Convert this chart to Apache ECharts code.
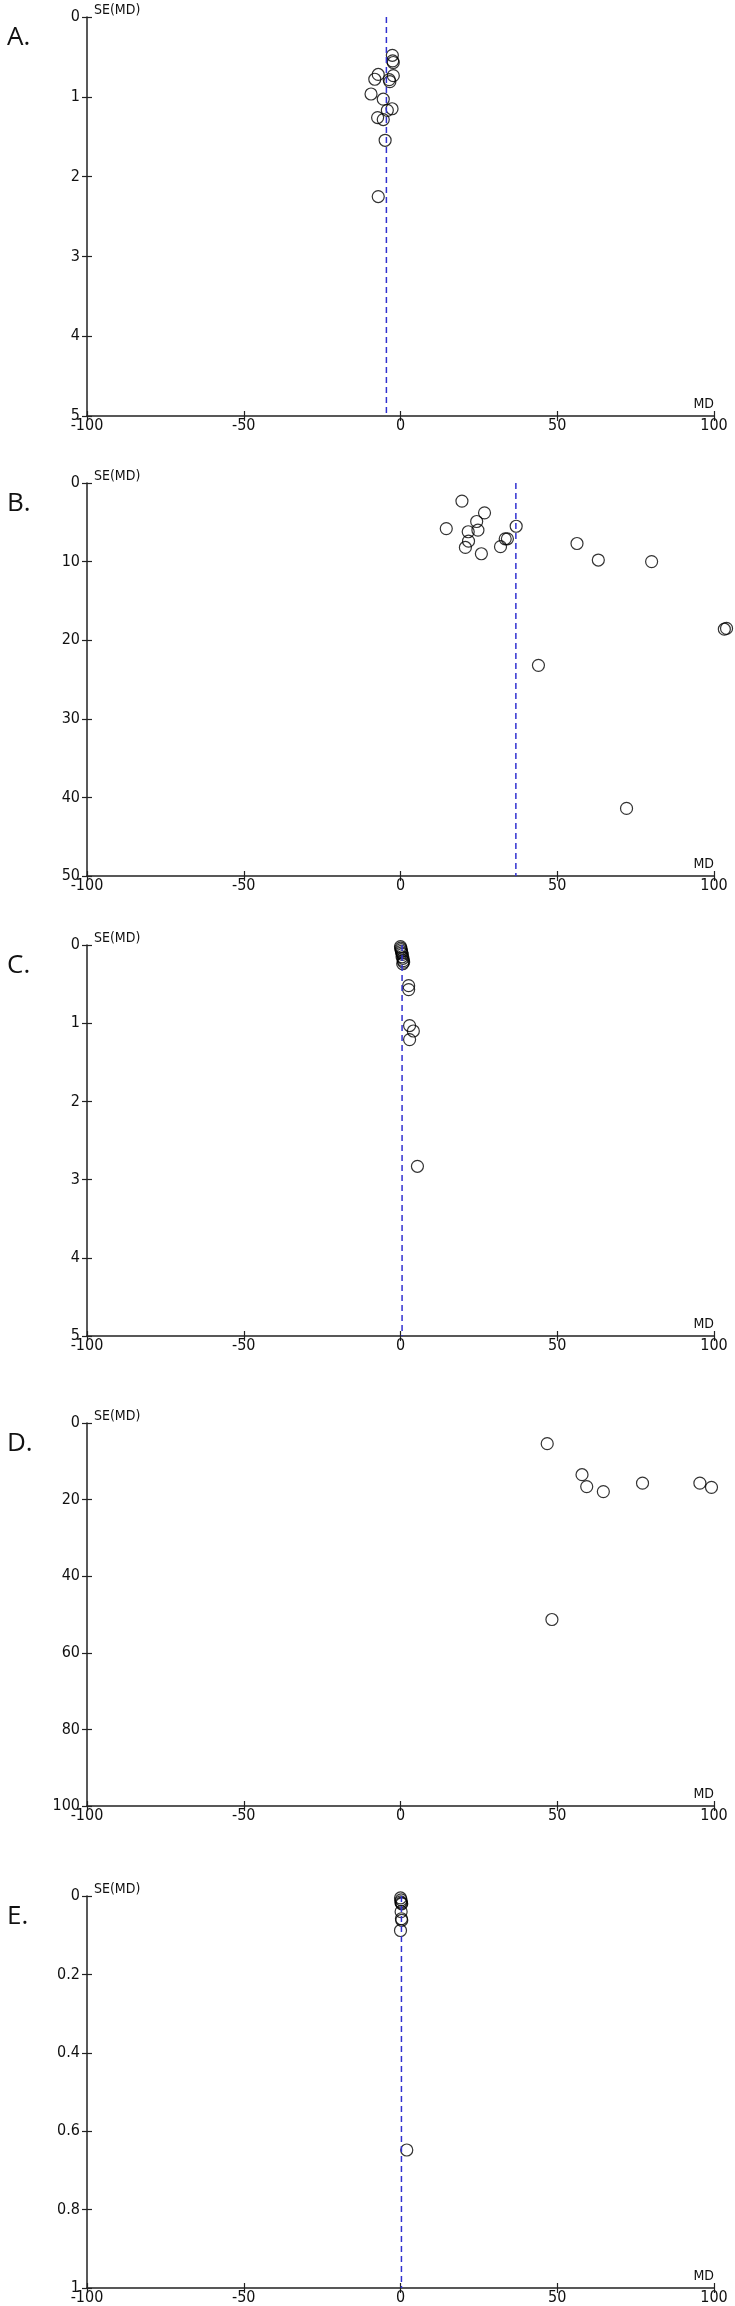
<!DOCTYPE html>
<html>
<head>
<meta charset="utf-8">
<script src="https://cdn.jsdelivr.net/npm/echarts@6/dist/echarts.min.js"></script>
<style>
html,body{margin:0;padding:0;background:#fff;}
#chart{width:735px;height:2306px;}
</style>
</head>
<body>
<div id="chart"></div>
<script>
// ---------- data ----------
const panelLabels = ['A.', 'B.', 'C.', 'D.', 'E.'];
const xName = 'MD';
const yName = 'SE(MD)';
const xMin = -100, xMax = 100, xInterval = 50;
const seMax = [5, 50, 5, 100, 1];
const seInterval = [1, 10, 1, 20, 0.2];
const pooled = [-4.5, 36.8, 0.5, null, 0.3];

// [MD, SE(MD)]
const studiesA = [
  [-2.6, 0.48], [-2.5, 0.55], [-2.3, 0.57], [-7.1, 0.72], [-8.2, 0.78],
  [-2.3, 0.735], [-3.6, 0.785], [-3.4, 0.81], [-9.4, 0.965], [-5.5, 1.03],
  [-2.7, 1.15], [-4.2, 1.17], [-7.3, 1.26], [-5.5, 1.285], [-4.9, 1.545],
  [-7.1, 2.25]
];
const studiesB = [
  [19.6, 2.3], [26.8, 3.8], [14.6, 5.8], [24.3, 4.9], [21.6, 6.2],
  [24.7, 6.0], [36.9, 5.5], [21.7, 7.4], [33.4, 7.1], [34.1, 7.1],
  [20.7, 8.2], [31.9, 8.1], [25.8, 9.0], [56.3, 7.7], [63.1, 9.8],
  [80.1, 10.0], [103.3, 18.6], [104.0, 18.5], [44.0, 23.2], [72.1, 41.4]
];
const studiesC = [
  [0.0, 0.02], [0.1, 0.04], [0.2, 0.06], [0.3, 0.08], [0.4, 0.10],
  [0.6, 0.12], [0.5, 0.15], [0.8, 0.17], [0.9, 0.20], [1.0, 0.22],
  [0.7, 0.24], [2.6, 0.52], [2.6, 0.57], [2.9, 1.03], [4.1, 1.10],
  [2.9, 1.21], [5.4, 2.83]
];
const studiesD = [
  [46.8, 5.4], [57.9, 13.5], [59.4, 16.6], [64.7, 17.9], [77.2, 15.7],
  [95.5, 15.7], [99.2, 16.8], [48.3, 51.3]
];
const studiesE = [
  [0.0, 0.005], [0.2, 0.01], [0.1, 0.015], [0.4, 0.02], [0.3, 0.018],
  [0.2, 0.04], [0.3, 0.058], [0.4, 0.062], [0.0, 0.088], [2.0, 0.648]
];
const studies = [studiesA, studiesB, studiesC, studiesD, studiesE];

// ---------- layout / style ----------
const gridTops = [17, 483, 945, 1423, 1896];
const gridHeights = [399, 393, 391, 383, 396];
const gridLeft = 87, gridRight = 21;
const tickFont = "'DejaVu Sans Condensed', 'Liberation Sans Narrow', 'DejaVu Sans', sans-serif";
const axisColor = '#222';

const option = {
  animation: false,
  backgroundColor: '#fff',
  title: [], grid: [], xAxis: [], yAxis: [], series: []
};

panelLabels.forEach((lab, i) => {
  option.title.push({
    text: lab, left: 2, top: gridTops[i] + 3,
    textStyle: {fontFamily: "'Open Sans', sans-serif", fontSize: 26, fontWeight: 'normal', color: '#111'}
  });
  option.grid.push({left: gridLeft, right: gridRight, top: gridTops[i], height: gridHeights[i]});

  const xBase = {
    type: 'value', gridIndex: i, min: xMin, max: xMax, interval: xInterval,
    position: 'bottom', splitLine: {show: false}
  };
  option.xAxis.push(Object.assign({}, xBase, {
    name: xName, nameLocation: 'end', nameGap: 0,
    nameTextStyle: {fontFamily: tickFont, fontSize: 14, color: '#111', align: 'right', verticalAlign: 'bottom', padding: [0, 0, 5, 0]},
    axisLine: {show: true, onZero: false, lineStyle: {color: axisColor, width: 1.5}},
    axisTick: {show: true, inside: false, length: 5, lineStyle: {color: axisColor, width: 1.2}},
    axisLabel: {show: true, margin: 2, fontFamily: tickFont, fontSize: 16, color: '#111'}
  }));
  option.xAxis.push(Object.assign({}, xBase, {
    axisLine: {show: false, onZero: false},
    axisTick: {show: true, inside: true, length: 5, lineStyle: {color: axisColor, width: 1.2}},
    axisLabel: {show: false}
  }));

  const yBase = {
    type: 'value', gridIndex: i, min: 0, max: seMax[i], interval: seInterval[i],
    inverse: true, position: 'left', splitLine: {show: false}
  };
  option.yAxis.push(Object.assign({}, yBase, {
    name: yName, nameLocation: 'start', nameGap: 0,
    nameTextStyle: {fontFamily: tickFont, fontSize: 14, color: '#111', align: 'left', verticalAlign: 'bottom', padding: [0, 0, 0, 7]},
    axisLine: {show: true, onZero: false, lineStyle: {color: axisColor, width: 1.5}},
    axisTick: {show: true, inside: false, length: 5, lineStyle: {color: axisColor, width: 1.2}},
    axisLabel: {show: true, margin: 7, fontFamily: tickFont, fontSize: 16, color: '#111'}
  }));
  option.yAxis.push(Object.assign({}, yBase, {
    axisLine: {show: false, onZero: false},
    axisTick: {show: true, inside: true, length: 5, lineStyle: {color: axisColor, width: 1.2}},
    axisLabel: {show: false}
  }));

  if (pooled[i] !== null) {
    option.series.push({
      type: 'line', xAxisIndex: 2 * i, yAxisIndex: 2 * i, silent: true,
      symbol: 'none', clip: false,
      data: [[pooled[i], 0], [pooled[i], seMax[i]]],
      lineStyle: {color: '#3030d0', width: 1.5, type: [6, 4]}
    });
  }
  option.series.push({
    type: 'scatter', xAxisIndex: 2 * i, yAxisIndex: 2 * i, clip: false,
    symbol: 'circle', symbolSize: 12,
    data: studies[i],
    itemStyle: {color: 'rgba(0,0,0,0)', borderColor: '#000', borderWidth: 1.2}
  });
});

const chart = echarts.init(document.getElementById('chart'), null, {renderer: 'canvas'});
chart.setOption(option);
</script>
</body>
</html>
